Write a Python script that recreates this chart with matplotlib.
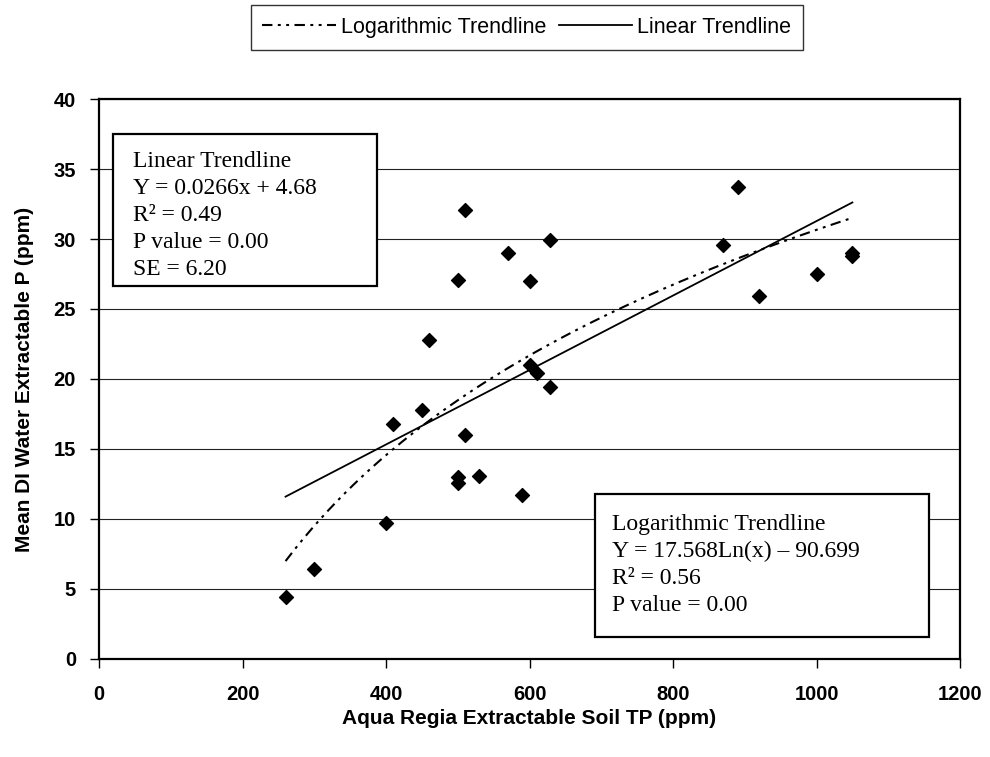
import numpy as np
import matplotlib
matplotlib.use("Agg")
import matplotlib.pyplot as plt
from matplotlib.patches import Rectangle

# aqua regia soil TP (ppm) vs mean DI water extractable P (ppm)
soil_tp = [260, 300, 400, 410, 450, 460, 500, 500, 500, 510, 510, 530, 570,
           590, 600, 600, 610, 628, 628, 870, 890, 920, 1000, 1050, 1050]
water_p = [4.4, 6.45, 9.7, 16.8, 17.8, 22.8, 27.1, 13.0, 12.6, 32.1, 16.0, 13.1, 29.0,
           11.7, 27.0, 21.0, 20.4, 29.9, 19.4, 29.6, 33.7, 25.9, 27.5, 28.8, 29.0]

# trendline coefficients as printed on the chart
lin_slope, lin_icept = 0.0266, 4.68
log_coef, log_icept = 17.568, -90.699

lin_text = "Linear Trendline\nY = 0.0266x + 4.68\nR\u00b2 = 0.49\nP value = 0.00\nSE = 6.20"
log_text = "Logarithmic Trendline\nY = 17.568Ln(x) \u2013 90.699\nR\u00b2 = 0.56\nP value = 0.00"

plt.rcParams['font.family'] = ['Liberation Sans', 'DejaVu Sans']

fig = plt.figure(figsize=(9.9, 7.57), dpi=100)
ax = fig.add_axes([0.1, 0.1295, 0.8697, 0.7397])

ax.scatter(soil_tp, water_p, marker='D', s=50, c='black', zorder=4)

xs = np.linspace(min(soil_tp), max(soil_tp), 200)
log_line, = ax.plot(xs, log_coef * np.log(xs) + log_icept, color='black', lw=1.5,
                    linestyle=(0, (5, 2.6, 1.4, 2.6, 1.4, 2.6)), zorder=3)
lin_x = np.array([min(soil_tp), max(soil_tp)])
lin_line, = ax.plot(lin_x, lin_slope * lin_x + lin_icept, color='black', lw=1.3, zorder=3)

ax.set_xlim(0, 1200)
ax.set_ylim(0, 40)
ax.set_xticks(np.arange(0, 1201, 200))
ax.set_yticks(np.arange(0, 41, 5))
ax.yaxis.grid(True, color='#222222', lw=0.8)
ax.set_axisbelow(True)
for s in ax.spines.values():
    s.set_linewidth(1.6)
    s.set_color('black')
ax.tick_params(length=6.5, width=1, direction='out', labelsize=14.5)
ax.tick_params(axis='y', pad=10)
ax.tick_params(axis='x', pad=12)
for lab in ax.get_xticklabels() + ax.get_yticklabels():
    lab.set_fontweight('bold')

ax.set_xlabel("Aqua Regia Extractable Soil TP (ppm)", fontsize=15, fontweight='bold', labelpad=4)
ax.set_ylabel("Mean DI Water Extractable P (ppm)", fontsize=15, fontweight='bold', labelpad=14)

# text boxes (linear one clips its last line like the original)
box1 = Rectangle((0.0163, 0.666), 0.3066, 0.2715, transform=ax.transAxes,
                 facecolor='white', edgecolor='black', lw=1.6, zorder=5)
ax.add_patch(box1)
clip1 = Rectangle((0.0163, 0.692), 0.3066, 0.244, transform=ax.transAxes,
                  facecolor='none', edgecolor='none')
ax.add_patch(clip1)
t1 = ax.text(0.0395, 0.9066, lin_text, transform=ax.transAxes, ha='left', va='top',
             fontsize=17, family='Liberation Serif', linespacing=1.37, zorder=6)
t1.set_clip_path(clip1)

box2 = Rectangle((0.576, 0.0393), 0.388, 0.2553, transform=ax.transAxes,
                 facecolor='white', edgecolor='black', lw=1.6, zorder=5)
ax.add_patch(box2)
ax.text(0.5955, 0.259, log_text, transform=ax.transAxes, ha='left', va='top',
        fontsize=17, family='Liberation Serif', linespacing=1.37, zorder=6)

leg = fig.legend([log_line, lin_line], ["Logarithmic Trendline", "Linear Trendline"],
                 loc='upper center', bbox_to_anchor=(0.532, 0.9934), ncol=2,
                 fontsize=15.5, frameon=True, fancybox=False, edgecolor='black',
                 handlelength=3.4, handletextpad=0.23, columnspacing=0.6,
                 borderpad=0.55, borderaxespad=0)
leg.get_frame().set_linewidth(1.0)

fig.savefig("out.png", dpi=100)
